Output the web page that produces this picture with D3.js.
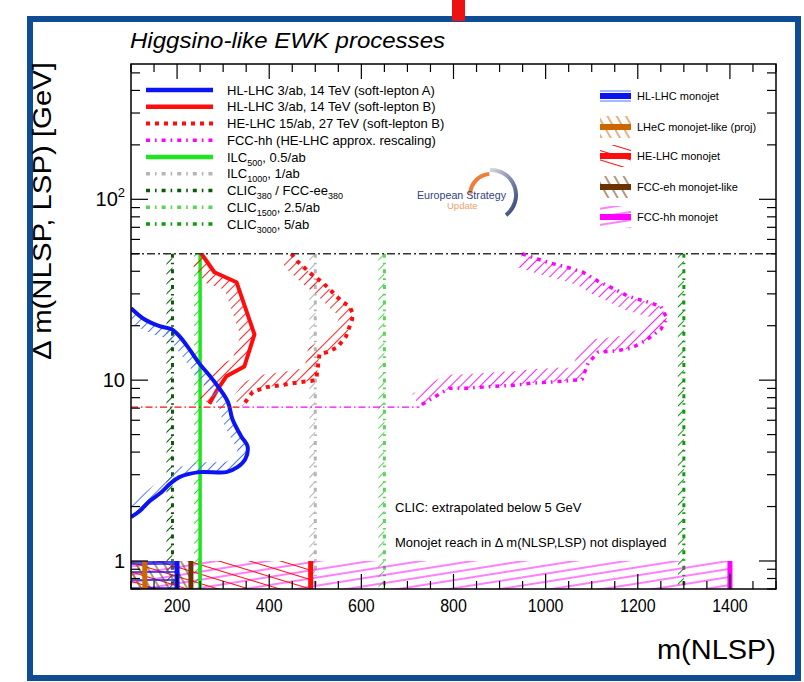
<!DOCTYPE html>
<html>
<head>
<meta charset="utf-8">
<script src="https://cdn.jsdelivr.net/npm/d3@7"></script>
<style>
  html, body { margin: 0; padding: 0; background: #fff; }
  svg { display: block; font-family: "Liberation Sans", Arial, Helvetica, sans-serif; }
</style>
</head>
<body>
<svg id="canvas" width="804" height="682"></svg>
<script>
// ---- values: [m(NLSP) GeV, dm GeV] ----
const softLeptonA = [[100,25],[129,21.7],[162,19.9],[188,19.1],[205,17.5],[227,14.8],[249,12.3],[277,10.1],[310,7.6],[320,6.1],[339,4.9],[353,4.3],[348,3.66],[331,3.3],[307,3.1],[249,3.1],[205,2.91],[184,2.66],[166,2.4],[140,2.14],[119,1.89],[100,1.75]];
const softLeptonB = [[253,50],[281,39.5],[329,34.8],[368,17.9],[346,11.9],[307,10.5],[288,8.9],[270,7.4]];
const heLhcB = [[448,50],[461,45.4],[492,38.5],[515,34.8],[531,31.8],[557,27.3],[574,25.6],[580,23.8],[580,21.7],[567,17.5],[548,15.2],[526,14.3],[509,13.9],[505,11.5],[502,10.1],[492,9.9],[466,9.75],[429,9.4],[394,9.15],[364,8.6],[342,7.2]];
const fccHhScaled = [[949,50],[977,47.2],[1012,44.3],[1047,42.1],[1081,39.5],[1114,35.2],[1146,32.2],[1179,29.1],[1216,27.3],[1250,25.6],[1263,22],[1250,19.1],[1218,16.6],[1185,15],[1151,14.5],[1114,14.3],[1092,12.4],[1079,10.1],[1044,9.88],[1008,9.75],[971,9.63],[936,9.39],[899,9.27],[862,9.15],[828,9.03],[791,9.03],[758,8.05],[726,7.2]];
const floorDm = 7.1;     // dash-dot extension below the soft-lepton reach
const topDm = 50;        // upper edge of the displayed region

// lepton-collider kinematic limits (GeV)
const clic380 = 190, ilc500 = 250, ilc1000 = 500, clic1500 = 650, clic3000 = 1300;

// monojet reaches (GeV), shown below dm = 1
const monojetNames = ["FCC-hh monojet", "HE-LHC monojet", "FCC-eh monojet-like", "HL-LHC monojet", "LHeC monojet-like (proj)"];
const monojetReach = [1400, 490, 230, 200, 130];

const xMajor = [200, 400, 600, 800, 1000, 1200, 1400];
const yMajor = [1, 10, 100];

const leftLegend = [
  [["HL-LHC 3/ab, 14 TeV (soft-lepton A)"]],
  [["HL-LHC 3/ab, 14 TeV (soft-lepton B)"]],
  [["HE-LHC 15/ab, 27 TeV (soft-lepton B)"]],
  [["FCC-hh (HE-LHC approx. rescaling)"]],
  [["ILC"], ["500", 1], [", 0.5/ab"]],
  [["ILC"], ["1000", 1], [", 1/ab"]],
  [["CLIC"], ["380", 1], [" / FCC-ee"], ["380", 1]],
  [["CLIC"], ["1500", 1], [", 2.5/ab"]],
  [["CLIC"], ["3000", 1], [", 5/ab"]]
];
const rightLegend = ["HL-LHC monojet", "LHeC monojet-like (proj)", "HE-LHC monojet", "FCC-eh monojet-like", "FCC-hh monojet"];

// ---- styles ----
const C = {
  blue: "#0a14f5", blueH: "#4677ff", red: "#ff0d0d", mag: "#ff00ff", green: "#1ee61e",
  gray: "#b5b5b5", dgreen: "#0a5a0a", lgreen: "#5ad35a", mgreen: "#0d9a0d",
  orange: "#cc6600", brown: "#6b3300", frame: "#0e4d94"
};
const dotDash = "4,5,1.6,5";

const svg = d3.select("svg#canvas");
const x = d3.scaleLinear().domain([100, 1500]).range([131, 776]);
const y = d3.scaleLog().domain([0.7, 560]).range([589, 64]);
const [x0, x1] = x.range(), [yb, yt] = y.range();

const defs = svg.append("defs");
function hatch(id, color, s, angle, w) {
  defs.append("pattern").attr("id", id)
    .attr("patternUnits", "userSpaceOnUse")
    .attr("width", s).attr("height", s)
    .attr("patternTransform", `rotate(${angle})`)
    .append("line")
    .attr("x1", s / 2).attr("y1", -1).attr("x2", s / 2).attr("y2", s + 1)
    .attr("stroke", color).attr("stroke-width", w);
}
hatch("hBlue", C.blueH, 7, 45, 1);
hatch("hRed", C.red, 7, 45, 0.9);
hatch("hMag", C.mag, 7, 45, 0.9);
hatch("hGreen", C.green, 7, 45, 1);
hatch("hGray", C.gray, 7, 45, 1);
hatch("hDgreen", C.dgreen, 7, 45, 1);
hatch("hLgreen", C.lgreen, 7, 45, 1);
hatch("hMgreen", C.mgreen, 7, 45, 1);
hatch("mjMag", C.mag, 8, 81, 1);
hatch("mjRed", C.red, 9, -73, 1);
hatch("mjBrown", C.brown, 8, -30, 1);
hatch("mjOrange", C.orange, 8, -30, 1);
hatch("mjBlue", C.blue, 8, 90, 1.4);

const grad = defs.append("linearGradient").attr("id", "logoArc")
  .attr("x1", "0").attr("y1", "0").attr("x2", "1").attr("y2", "1");
grad.append("stop").attr("offset", "0").attr("stop-color", "#d9dbe5");
grad.append("stop").attr("offset", "1").attr("stop-color", "#26386e");

defs.append("clipPath").attr("id", "plotClip").append("rect")
  .attr("x", x0).attr("y", yt).attr("width", x1 - x0).attr("height", yb - yt);

// outer frame of the slide
svg.append("rect").attr("x", 30).attr("y", 19).attr("width", 768).attr("height", 659)
  .attr("fill", "#fff").attr("stroke", C.frame).attr("stroke-width", 6);
svg.append("rect").attr("x", 452).attr("y", 0).attr("width", 13).attr("height", 21).attr("fill", "#ee1111");

const plot = svg.append("g").attr("clip-path", "url(#plotClip)");

// vertical lepton-collider limits with hatch on the excluded side
function vline(mass, color, pat, dash, w) {
  plot.append("rect").attr("x", x(mass) - 6).attr("y", y(topDm))
    .attr("width", 6).attr("height", yb - y(topDm)).attr("fill", `url(#${pat})`);
  plot.append("line").attr("x1", x(mass)).attr("x2", x(mass))
    .attr("y1", y(topDm)).attr("y2", yb)
    .attr("stroke", color).attr("stroke-width", w)
    .attr("stroke-dasharray", dash);
}
vline(clic380, C.dgreen, "hDgreen", dotDash, 3);
vline(ilc1000, C.gray, "hGray", dotDash, 3);
vline(clic1500, C.lgreen, "hLgreen", dotDash, 3);
vline(clic3000, C.mgreen, "hMgreen", dotDash, 3);
vline(ilc500, C.green, "hGreen", null, 3.5);

// exclusion contours with a hatched band on the inner side
function offset(pts, d) {
  return pts.map((p, i) => {
    const a = pts[Math.max(i - 1, 0)], b = pts[Math.min(i + 1, pts.length - 1)];
    const dx = b[0] - a[0], dy = b[1] - a[1], L = Math.hypot(dx, dy) || 1;
    return [p[0] - dy / L * d, p[1] + dx / L * d];
  });
}
function contour(data, color, w, dash, pat, band, smooth) {
  const pts = data.map(d => [x(d[0]), y(d[1])]);
  const poly = pts.concat(offset(pts, band).reverse());
  plot.append("path").attr("d", d3.line()(poly) + "Z").attr("fill", `url(#${pat})`);
  plot.append("path")
    .attr("d", d3.line().curve(smooth ? d3.curveCatmullRom : d3.curveLinear)(pts))
    .attr("fill", "none").attr("stroke", color).attr("stroke-width", w)
    .attr("stroke-linejoin", "round")
    .attr("stroke-dasharray", dash);
}
contour(fccHhScaled, C.mag, 3.5, dotDash, "hMag", 14, false);
contour(heLhcB, C.red, 4, "4,5", "hRed", 13, false);
contour(softLeptonB, C.red, 4, null, "hRed", 14, false);
contour(softLeptonA, C.blue, 4, null, "hBlue", 10, true);

// floor extension and upper edge
const heEnd = heLhcB[heLhcB.length - 1][0], fccEnd = fccHhScaled[fccHhScaled.length - 1][0];
plot.append("line").attr("x1", x(100)).attr("x2", x(heEnd)).attr("y1", y(floorDm)).attr("y2", y(floorDm))
  .attr("stroke", C.red).attr("stroke-width", 1.3).attr("stroke-dasharray", "7,3,1.5,3");
plot.append("line").attr("x1", x(heEnd)).attr("x2", x(fccEnd)).attr("y1", y(floorDm)).attr("y2", y(floorDm))
  .attr("stroke", C.mag).attr("stroke-width", 1.3).attr("stroke-dasharray", "7,3,1.5,3");
plot.append("line").attr("x1", x0).attr("x2", x1).attr("y1", y(topDm)).attr("y2", y(topDm))
  .attr("stroke", "#333").attr("stroke-width", 1.4).attr("stroke-dasharray", "8,3,2,3");

// monojet reaches below dm = 1
const mjPat = ["mjMag", "mjRed", "mjBrown", "mjBlue", "mjOrange"];
const mjCol = [C.mag, C.red, C.brown, C.blue, C.orange];
monojetReach.forEach((m, i) => {
  plot.append("rect").attr("x", x0).attr("y", y(1)).attr("width", x(m) - x0)
    .attr("height", yb - y(1)).attr("fill", `url(#${mjPat[i]})`);
  if (mjPat[i] === "mjBlue") {
    plot.append("line").attr("x1", x0).attr("x2", x(m)).attr("y1", y(1) + 1).attr("y2", y(1) + 1)
      .attr("stroke", C.blue).attr("stroke-width", 1.5);
  }
  plot.append("rect").attr("x", x(m) - 2.5).attr("y", y(1)).attr("width", 5)
    .attr("height", yb - y(1)).attr("fill", mjCol[i]);
});
plot.append("line").attr("x1", x(ilc500)).attr("x2", x(ilc500)).attr("y1", y(1)).attr("y2", yb)
  .attr("stroke", C.green).attr("stroke-width", 3.5);

// axes: frame and ticks on all four sides
svg.append("rect").attr("x", x0).attr("y", yt).attr("width", x1 - x0).attr("height", yb - yt)
  .attr("fill", "none").attr("stroke", "#000").attr("stroke-width", 1.5);
const ticks = svg.append("g").attr("stroke", "#000").attr("stroke-width", 1.2);
d3.range(100, 1501, 50).forEach(v => {
  const L = xMajor.includes(v) ? 15 : 8;
  ticks.append("line").attr("x1", x(v)).attr("x2", x(v)).attr("y1", yb).attr("y2", yb - L);
  ticks.append("line").attr("x1", x(v)).attr("x2", x(v)).attr("y1", yt).attr("y2", yt + L);
});
y.ticks().forEach(v => {
  const L = yMajor.includes(v) ? 17 : 9;
  ticks.append("line").attr("x1", x0).attr("x2", x0 + L).attr("y1", y(v)).attr("y2", y(v));
  ticks.append("line").attr("x1", x1).attr("x2", x1 - L).attr("y1", y(v)).attr("y2", y(v));
});

svg.append("g").selectAll("text").data(xMajor).join("text")
  .attr("x", d => x(d)).attr("y", 612).attr("text-anchor", "middle")
  .attr("font-size", 18).attr("textLength", d => String(d).length * 8.9)
  .attr("lengthAdjust", "spacingAndGlyphs").text(d => d);

yMajor.forEach(v => {
  const t = svg.append("text").attr("x", 125).attr("y", y(v) + 7)
    .attr("text-anchor", "end").attr("font-size", 20);
  if (v < 100) t.text(v);
  else {
    t.append("tspan").text("10");
    t.append("tspan").attr("font-size", 13).attr("dy", -9).text(Math.log10(v));
  }
});

svg.append("text").attr("x", x1).attr("y", 659).attr("text-anchor", "end")
  .attr("font-size", 27).attr("textLength", 119).attr("lengthAdjust", "spacingAndGlyphs")
  .text("m(NLSP)");
svg.append("text").attr("transform", "translate(51,62) rotate(-90)").attr("text-anchor", "end")
  .attr("font-size", 26).attr("textLength", 298).attr("lengthAdjust", "spacingAndGlyphs")
  .text("Δ m(NLSP, LSP) [GeV]");
svg.append("text").attr("x", 130).attr("y", 48).attr("font-size", 22).attr("font-style", "italic")
  .attr("textLength", 315).attr("lengthAdjust", "spacingAndGlyphs")
  .text("Higgsino-like EWK processes");

svg.append("text").attr("x", 395).attr("y", 512).attr("font-size", 13).text("CLIC: extrapolated below 5 GeV");
svg.append("text").attr("x", 395).attr("y", 547).attr("font-size", 13).text("Monojet reach in Δ m(NLSP,LSP) not displayed");

// left legend
const leftStyle = [
  { c: C.blue, w: 4.5, dash: null }, { c: C.red, w: 4.5, dash: null },
  { c: C.red, w: 4, dash: "4,5" }, { c: C.mag, w: 3.5, dash: dotDash },
  { c: C.green, w: 4.5, dash: null }, { c: C.gray, w: 3.5, dash: dotDash },
  { c: C.dgreen, w: 3.5, dash: dotDash }, { c: C.lgreen, w: 3.5, dash: dotDash },
  { c: C.mgreen, w: 3.5, dash: dotDash }
];
const legL = svg.append("g");
leftLegend.forEach((parts, i) => {
  const ry = 90 + i * 16.75, s = leftStyle[i];
  legL.append("line").attr("x1", 146).attr("x2", 213).attr("y1", ry).attr("y2", ry)
    .attr("stroke", s.c).attr("stroke-width", s.w).attr("stroke-dasharray", s.dash);
  const t = legL.append("text").attr("x", 227).attr("y", ry + 4.5).attr("font-size", 13);
  let lastSub = false;
  parts.forEach(([txt, sub]) => {
    const sp = t.append("tspan").text(txt);
    if (sub) sp.attr("font-size", 9).attr("dy", 4);
    else if (lastSub) sp.attr("dy", -4);
    lastSub = !!sub;
  });
});

// right legend
const legR = svg.append("g");
const rPat = ["mjBlue", "mjOrange", "mjRed", "mjBrown", "mjMag"];
const rCol = [C.blue, C.orange, C.red, C.brown, C.mag];
rightLegend.forEach((name, i) => {
  const ry = [96, 127, 156, 187, 217][i];
  if (i === 0) {
    [-5, 5].forEach(o => legR.append("line").attr("x1", 600).attr("x2", 631)
      .attr("y1", ry + o).attr("y2", ry + o).attr("stroke", C.blueH).attr("stroke-width", 1));
  } else {
    legR.append("rect").attr("x", 600).attr("y", ry - 11).attr("width", 31).attr("height", 22)
      .attr("fill", `url(#${rPat[i]})`);
  }
  legR.append("rect").attr("x", 600).attr("y", ry - 3).attr("width", 31).attr("height", 6).attr("fill", rCol[i]);
  legR.append("text").attr("x", 637).attr("y", ry + 4).attr("font-size", 11).text(name);
});

// European Strategy Update logo
const logo = svg.append("g").attr("transform", "translate(491,195)");
logo.append("path").attr("d", d3.arc()({ innerRadius: 19, outerRadius: 23, startAngle: -1.5, endAngle: -0.08 }))
  .attr("fill", "#ef7d3c");
logo.append("path").attr("d", d3.arc()({ innerRadius: 23, outerRadius: 27, startAngle: -0.05, endAngle: 2.5 }))
  .attr("fill", "url(#logoArc)");
logo.append("text").attr("x", -74).attr("y", 4).attr("font-size", 11).attr("fill", "#34437a")
  .attr("textLength", 89).attr("lengthAdjust", "spacingAndGlyphs").text("European Strategy");
logo.append("text").attr("x", -44).attr("y", 14).attr("font-size", 9.5).attr("fill", "#f0a070")
  .text("Update");
</script>
</body>
</html>
